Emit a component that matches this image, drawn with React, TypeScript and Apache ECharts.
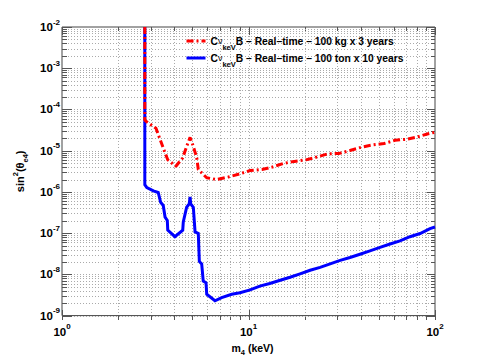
import React, { useEffect, useRef } from "react";
import * as echarts from "echarts";

// ---- data ----
const redMass = [2.78, 2.78, 2.85, 3.19, 3.35, 3.52, 3.69, 4.08, 4.44, 4.66, 4.86, 5.06, 5.28, 5.38, 5.97, 6.75, 7.79, 9.0, 10.2, 11.8, 13.4, 15.4, 17.6, 20.3, 23.2, 26.6, 30.7, 35, 40.5, 46.3, 53.3, 61.1, 70.5, 80.4, 92, 100];
const redSin2 = [1e-2, 5.5e-5, 5.0e-5, 3.5e-5, 1.92e-5, 1.05e-5, 6.0e-6, 4.2e-6, 6.7e-6, 1.27e-5, 2.1e-5, 1.27e-5, 6.7e-6, 3.5e-6, 2.2e-6, 2.0e-6, 2.3e-6, 2.75e-6, 3.3e-6, 3.5e-6, 4.0e-6, 4.9e-6, 5.5e-6, 6.0e-6, 7.0e-6, 8.4e-6, 8.6e-6, 1.01e-5, 1.22e-5, 1.38e-5, 1.49e-5, 1.79e-5, 1.89e-5, 2.15e-5, 2.58e-5, 2.8e-5];

const blueMass = [2.78, 2.78, 2.85, 3.09, 3.28, 3.38, 3.49, 3.57, 3.67, 3.69, 4.03, 4.44, 4.47, 4.66, 4.81, 4.86, 4.9, 5.06, 5.17, 5.38, 5.45, 5.61, 5.72, 5.92, 5.97, 6.61, 7.18, 8.13, 9.0, 10.2, 11.5, 13.0, 14.8, 16.7, 18.9, 21.4, 24.2, 27.4, 31, 35, 39.6, 44.8, 50.7, 57.4, 64.9, 73.4, 83.2, 94, 100];
const blueSin2 = [1e-2, 1.5e-6, 1.28e-6, 1.06e-6, 9.7e-7, 5.6e-7, 4.7e-7, 2.45e-7, 2.04e-7, 1.18e-7, 8.2e-8, 1.18e-7, 1.86e-7, 4.25e-7, 5.1e-7, 7.6e-7, 5.1e-7, 4.25e-7, 1.07e-7, 9.8e-8, 2.06e-8, 1.8e-8, 6.9e-9, 6.25e-9, 3.3e-9, 2.29e-9, 2.74e-9, 3.3e-9, 3.6e-9, 4.2e-9, 5.2e-9, 6.0e-9, 7.2e-9, 8.5e-9, 1.03e-8, 1.26e-8, 1.48e-8, 1.8e-8, 2.18e-8, 2.57e-8, 3.08e-8, 3.7e-8, 4.5e-8, 5.45e-8, 6.5e-8, 8.2e-8, 9.8e-8, 1.29e-7, 1.41e-7];

const redName = "CvkeVB – Real–time – 100 kg x 3 years";
const blueName = "CvkeVB – Real–time – 100 ton x 10 years";
const redLegendRest = "B – Real–time – 100 kg x 3 years";
const blueLegendRest = "B – Real–time – 100 ton x 10 years";

const xMin = 1, xMax = 100;
const yMin = 1e-9, yMax = 1e-2;

const FONT = "'Liberation Sans', Arial, Helvetica, sans-serif";

const G = { left: 62, top: 27, right: 45, bottom: 41 };
const W = 480, H = 361;

function expLabel(v: number) {
  const e = Math.round(Math.log10(v));
  return "{b|10}{e|" + (e < 0 ? "-" + -e : String(e)) + "}";
}

const labelRich = {
  b: { fontFamily: FONT, fontWeight: "bold", fontSize: 11.5, color: "#000", lineHeight: 18 },
  e: { fontFamily: FONT, fontWeight: "bold", fontSize: 8, color: "#000", lineHeight: 9, verticalAlign: "top" },
};

export default function App() {
  const ref = useRef<HTMLDivElement>(null);
  useEffect(() => {
    if (!ref.current) return;
    const chart = echarts.init(ref.current, null, { renderer: "svg" });
    const redData = redMass.map((m, i) => [m, redSin2[i]]);
    const blueData = blueMass.map((m, i) => [m, blueSin2[i]]);
    const option: any = {
      animation: false,
      backgroundColor: "#fff",
      grid: { ...G, show: true, borderColor: "#444", borderWidth: 1, backgroundColor: "transparent" },
      xAxis: {
        type: "log", logBase: 10, min: xMin, max: xMax,
        axisLine: { show: false }, axisTick: { show: false }, splitLine: { show: false },
        axisLabel: { formatter: expLabel, margin: 7, rich: labelRich },
        name: "{a|m}{s|4}{a| (keV)}",
        nameLocation: "middle", nameGap: 11,
        nameTextStyle: {
          padding: [0, 0, 0, 8],
          rich: {
            a: { fontFamily: FONT, fontWeight: "bold", fontSize: 10.5, color: "#000", lineHeight: 16 },
            s: { fontFamily: FONT, fontWeight: "bold", fontSize: 7.5, color: "#000", lineHeight: 8, verticalAlign: "bottom" },
          },
        },
      },
      yAxis: {
        type: "log", logBase: 10, min: yMin, max: yMax, splitNumber: 7,
        axisLine: { show: false }, axisTick: { show: false }, splitLine: { show: false },
        axisLabel: { formatter: expLabel, margin: 2, rich: labelRich },
        name: "{a|sin}{p|2}{a|(θ}{s|e4}{a|)}",
        nameLocation: "middle", nameGap: 30,
        nameTextStyle: {
          rich: {
            a: { fontFamily: FONT, fontWeight: "bold", fontSize: 11, color: "#000", lineHeight: 18 },
            p: { fontFamily: FONT, fontWeight: "bold", fontSize: 7.5, color: "#000", lineHeight: 8, verticalAlign: "top" },
            s: { fontFamily: FONT, fontWeight: "bold", fontSize: 7.5, color: "#000", lineHeight: 8, verticalAlign: "bottom" },
          },
        },
      },
      legend: {
        data: [redName, blueName],
        orient: "vertical",
        left: 180, top: 31,
        itemWidth: 19, itemHeight: 10, itemGap: 2,
        itemStyle: { opacity: 0, borderWidth: 0 },
        lineStyle: { width: 3 },
        formatter: (name: string) =>
          "{c|C}{n|ν}{s|keV}{c|" + (name === redName ? redLegendRest : blueLegendRest) + "}",
        textStyle: {
          rich: {
            c: { fontFamily: FONT, fontWeight: "bold", fontSize: 10.3, color: "#000", lineHeight: 20 },
            n: { fontFamily: FONT, fontSize: 9, color: "#000", lineHeight: 20 },
            s: { fontFamily: FONT, fontWeight: "bold", fontSize: 7.5, color: "#000", lineHeight: 8, verticalAlign: "bottom" },
          },
        },
      },
      series: [
        {
          name: blueName, type: "line", data: blueData, symbol: "none", clip: true,
          lineStyle: { color: "#0000ff", width: 3, join: "miter" }, itemStyle: { color: "#0000ff" }, z: 3,
        },
        {
          name: redName, type: "line", data: redData, symbol: "none", clip: true,
          lineStyle: { color: "#ff0000", width: 3, type: [7, 3, 2, 3] }, itemStyle: { color: "#ff0000" }, z: 4,
        },
      ],
    };
    chart.setOption(option);

    // grid lines and ticks (ROOT style) through the axes' own scales
    const left = G.left, right = W - G.right, top = G.top, bottom = H - G.bottom;
    const els: any[] = [];
    const line = (x1: number, y1: number, x2: number, y2: number, stroke: string, dash?: number[]) =>
      els.push({ type: "line", silent: true, z: 0, shape: { x1, y1, x2, y2 }, style: { stroke, lineWidth: 1, lineDash: dash } });
    const xVals: [number, boolean][] = [];
    for (let d = xMin; d < xMax; d *= 10) for (let m = 1; m <= 9; m++) xVals.push([m * d, m === 1]);
    xVals.push([xMax, true]);
    const yVals: [number, boolean][] = [];
    for (let k = -9; k < -2; k++) for (let m = 1; m <= 9; m++) yVals.push([m * Math.pow(10, k), m === 1]);
    yVals.push([yMax, true]);
    xVals.forEach(([v, major]) => {
      const p = Math.round(chart.convertToPixel({ xAxisIndex: 0 }, v) as number) + 0.5;
      if (p > left + 1 && p < right - 1) line(p, top, p, bottom, "#aaa", [1, 2]);
      const L = major ? 10 : 5;
      line(p, bottom, p, bottom - L, "#555");
      line(p, top, p, top + (major ? 8 : 4), "#555");
    });
    yVals.forEach(([v, major]) => {
      const p = Math.round(chart.convertToPixel({ yAxisIndex: 0 }, v) as number) + 0.5;
      if (p > top + 1 && p < bottom - 1) line(left, p, right, p, "#aaa", [1, 2]);
      const L = major ? 10 : 5;
      line(left, p, left + L, p, "#555");
      line(right, p, right - (major ? 8 : 4), p, "#555");
    });
    chart.setOption({ graphic: els });
    return () => chart.dispose();
  }, []);
  return <div ref={ref} style={{ position: "absolute", left: 0, top: 0, width: 480, height: 361 }} />;
}
